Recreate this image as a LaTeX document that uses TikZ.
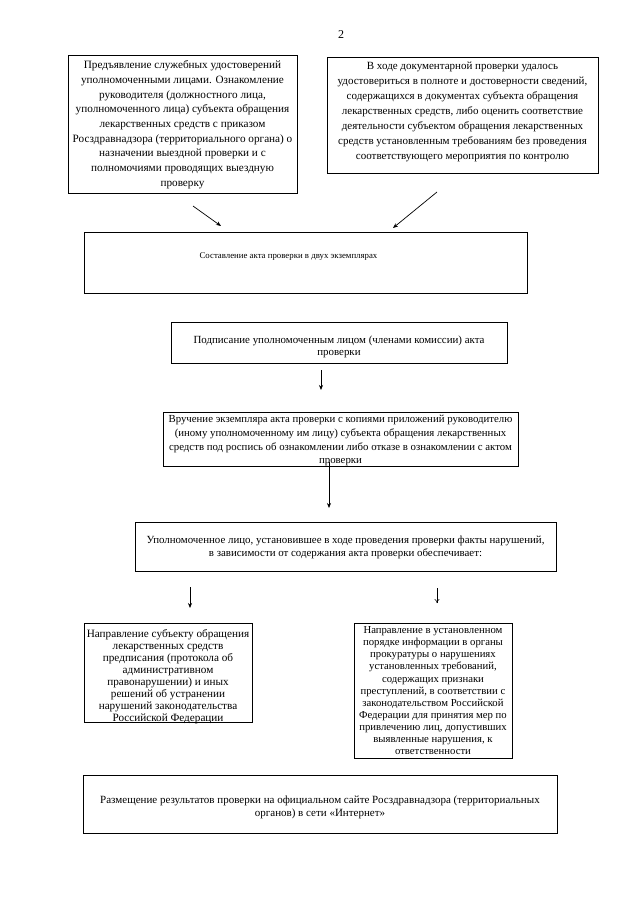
\documentclass[tikz,border=0pt]{standalone}
\usepackage{fontspec}
\setmainfont{Liberation Serif}
\usetikzlibrary{arrows.meta}
\newcommand{\bxc}[4]{\parbox[c][#2pt][t]{#1pt}{\centering\vspace*{#3pt}#4\par}}
\begin{document}
\begin{tikzpicture}[x=1pt,y=-1pt,
  box/.style={draw=black,line width=0.8pt,inner sep=0pt},
  arr/.style={-{Stealth[length=5pt,width=4pt]},line width=0.7pt},
  openarr/.style={-{To[length=4pt,width=5pt]},line width=0.5pt}]
\useasboundingbox (0,0) rectangle (640,905);
\fill[white] (0,0) rectangle (640,905);
\node[font=\fontsize{12}{14}\selectfont] (pg) at (341,35) {2};
\node[box,font=\fontsize{11.2}{14.7}\selectfont] (A) at (182.5,124) {\bxc{229}{138}{5.7}{Предъявление служебных удостоверений\\уполномоченными лицами. Ознакомление\\руководителя (должностного лица,\\уполномоченного лица) субъекта обращения\\лекарственных средств с приказом\\Росздравнадзора (территориального органа) о\\назначении выездной проверки и с\\полномочиями проводящих выездную\\проверку}};
\node[box,font=\fontsize{11}{15}\selectfont] (B) at (462.5,115) {\bxc{271}{116}{5.3}{В ходе документарной проверки удалось\\удостовериться в полноте и достоверности сведений,\\содержащихся в документах субъекта обращения\\лекарственных средств, либо оценить соответствие\\деятельности субъектом обращения лекарственных\\средств установленным требованиям без проведения\\соответствующего мероприятия по контролю}};
\node[box,font=\fontsize{8.8}{11}\selectfont] (C) at (305.5,262.5) {\bxc{443}{61}{20.9}{\hspace*{-34pt}Составление акта проверки в двух экземплярах}};
\node[box,font=\fontsize{10.9}{12.5}\selectfont] (D) at (339,342.5) {\bxc{336}{41}{13.8}{Подписание уполномоченным лицом (членами комиссии) акта\\проверки}};
\node[box,font=\fontsize{10.8}{13.7}\selectfont] (E) at (340.5,439) {\bxc{355}{54}{3.3}{Вручение экземпляра акта проверки с копиями приложений руководителю\\(иному уполномоченному им лицу) субъекта обращения лекарственных\\средств под роспись об ознакомлении либо отказе в ознакомлении с актом\\проверки}};
\node[box,font=\fontsize{10.9}{13.5}\selectfont] (F) at (345.5,546.5) {\bxc{421}{49}{13.8}{Уполномоченное лицо, установившее в ходе проведения проверки факты нарушений,\\в зависимости от содержания акта проверки обеспечивает:}};
\node[box,font=\fontsize{11.2}{12}\selectfont] (G) at (168,672.5) {\bxc{168}{99}{6.3}{Направление субъекту обращения\\лекарственных средств\\предписания (протокола об\\административном\\правонарушении) и иных\\решений об устранении\\нарушений законодательства\\Российской Федерации}};
\node[box,font=\fontsize{10.7}{12.05}\selectfont] (H) at (433,690.5) {\bxc{158}{135}{3.8}{Направление в установленном\\порядке информации в органы\\прокуратуры о нарушениях\\установленных требований,\\содержащих признаки\\преступлений, в соответствии с\\законодательством Российской\\Федерации для принятия мер по\\привлечению лиц, допустивших\\выявленные нарушения, к\\ответственности}};
\node[box,font=\fontsize{11}{13}\selectfont] (I) at (320,804) {\bxc{474}{58}{20.8}{Размещение результатов проверки на официальном сайте Росздравнадзора (территориальных\\органов) в сети «Интернет»}};
\coordinate (a1s) at (193,206);
\coordinate (a1e) at (221,226);
\coordinate (a2s) at (437,192);
\coordinate (a2e) at (393,228);
\coordinate (a3s) at (321,370);
\coordinate (a3e) at (321,390);
\coordinate (a4s) at (329,462);
\coordinate (a4e) at (329,508);
\coordinate (a5s) at (190,587);
\coordinate (a5e) at (190,608);
\coordinate (a6s) at (437,588);
\coordinate (a6e) at (437,603);
\draw[arr] (a1s) -- (a1e);
\draw[arr] (a2s) -- (a2e);
\draw[arr] (a3s) -- (a3e);
\draw[arr] (a4s) -- (a4e);
\draw[arr] (a5s) -- (a5e);
\draw[openarr] (a6s) -- (a6e);
\end{tikzpicture}
\end{document}
